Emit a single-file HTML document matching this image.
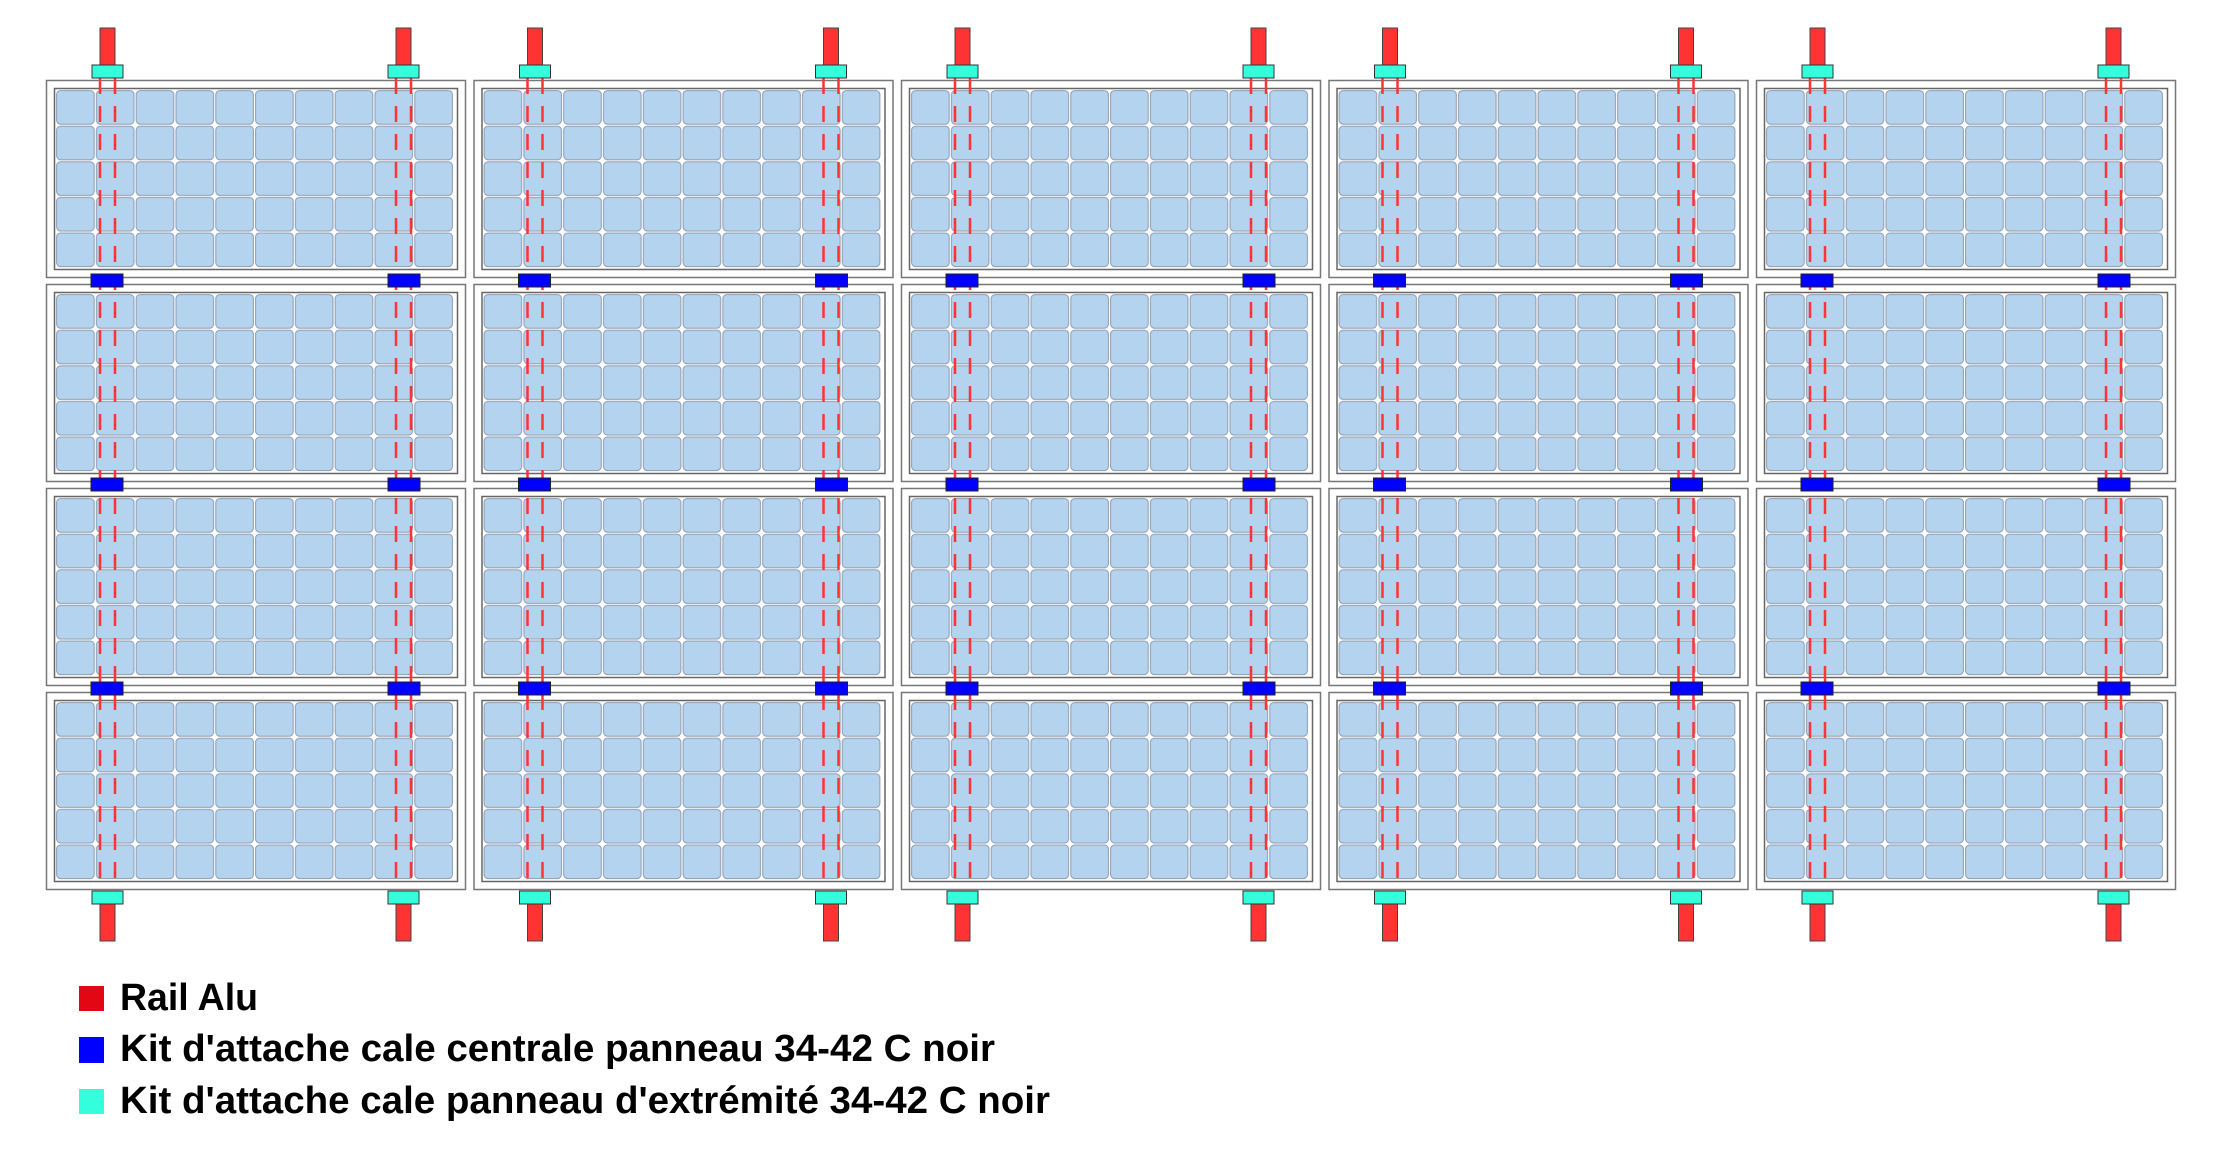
<!DOCTYPE html>
<html><head><meta charset="utf-8"><style>html,body{margin:0;padding:0;background:#fff}svg{display:block}</style></head>
<body>
<svg width="2228" height="1149" viewBox="0 0 2228 1149" xmlns="http://www.w3.org/2000/svg">
<defs>
<pattern id="c" patternUnits="userSpaceOnUse" x="10" y="10" width="39.8" height="35.6">
<rect x="0.6" y="0.6" width="37.6" height="33.6" rx="4" fill="#b4d3ef" stroke="#8e9bb0" stroke-width="1"/>
</pattern>
<g id="p">
<rect x="0.5" y="0.5" width="419" height="197" fill="#fff" stroke="#777" stroke-width="1.5"/>
<rect x="8.5" y="8.5" width="403" height="181" fill="#fff" stroke="#666" stroke-width="1.5"/>
<rect x="10" y="10" width="398" height="178" fill="url(#c)"/>
</g>
<g id="col">
<use href="#p" x="0" y="80"/>
<use href="#p" x="0" y="284"/>
<use href="#p" x="0" y="488"/>
<use href="#p" x="0" y="692"/>
<g stroke="#ff3333" stroke-width="2.5" stroke-dasharray="16 12">
<line x1="54" y1="78" x2="54" y2="890"/><line x1="69" y1="78" x2="69" y2="890"/>
<line x1="350" y1="78" x2="350" y2="890"/><line x1="365" y1="78" x2="365" y2="890"/>
</g>
<g fill="#ff3333" stroke="#444" stroke-width="1">
<rect x="54" y="28" width="15" height="37"/><rect x="350" y="28" width="15" height="37"/>
<rect x="54" y="904" width="15" height="37"/><rect x="350" y="904" width="15" height="37"/>
</g>
<g fill="#33ffdd" stroke="#333" stroke-width="1">
<rect x="46" y="65" width="31" height="13"/><rect x="342" y="65" width="31" height="13"/>
<rect x="46" y="891" width="31" height="13"/><rect x="342" y="891" width="31" height="13"/>
</g>
<g fill="#0000ff" stroke="#222" stroke-width="1">
<rect x="45" y="274" width="32" height="13"/><rect x="342" y="274" width="32" height="13"/>
<rect x="45" y="478" width="32" height="13"/><rect x="342" y="478" width="32" height="13"/>
<rect x="45" y="682" width="32" height="13"/><rect x="342" y="682" width="32" height="13"/>
</g>
</g>
</defs>
<use href="#col" x="46" y="0"/>
<use href="#col" x="473.5" y="0"/>
<use href="#col" x="901" y="0"/>
<use href="#col" x="1328.5" y="0"/>
<use href="#col" x="1756" y="0"/>
<rect x="79" y="986" width="25" height="25" fill="#e30613"/>
<rect x="79" y="1037" width="25" height="26" fill="#0000ff"/>
<rect x="79" y="1089" width="25" height="25" fill="#33ffdd"/>
<g font-family="Liberation Sans, sans-serif" font-weight="bold" font-size="38" fill="#000">
<text x="120" y="1010" textLength="138" lengthAdjust="spacingAndGlyphs">Rail Alu</text>
<text x="120" y="1061" textLength="875" lengthAdjust="spacingAndGlyphs">Kit d'attache cale centrale panneau 34-42 C noir</text>
<text x="120" y="1113" textLength="930" lengthAdjust="spacingAndGlyphs">Kit d'attache cale panneau d'extrémité 34-42 C noir</text>
</g>
</svg>
</body></html>
